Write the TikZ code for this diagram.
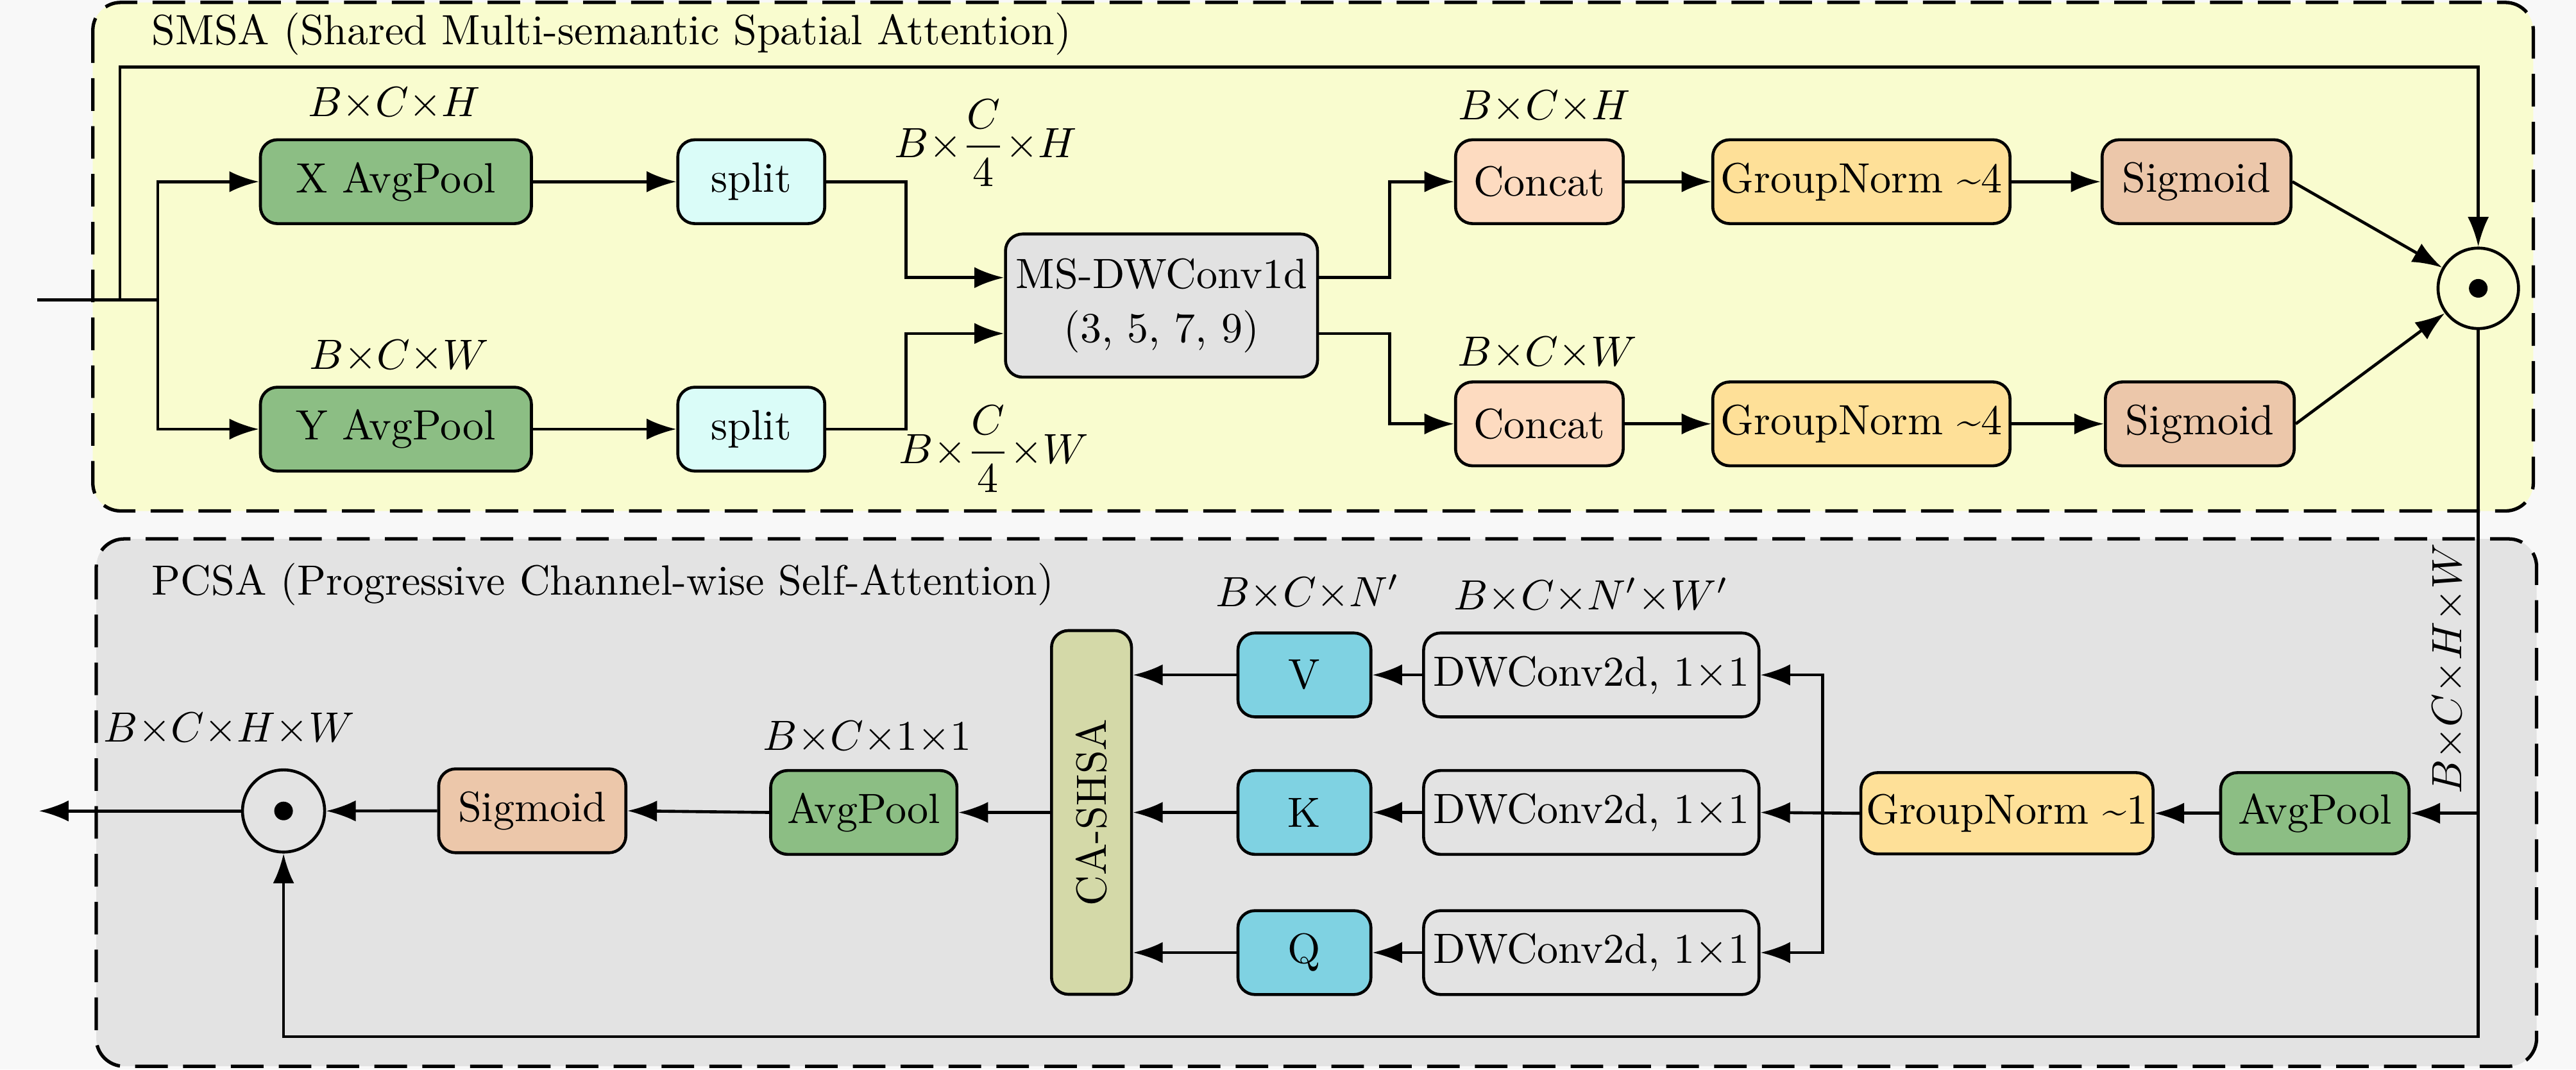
\documentclass[tikz,border=0pt]{standalone}
\usepackage{fontspec}
\usetikzlibrary{arrows.meta,calc}
\definecolor{bgc}{RGB}{248,248,248}
\definecolor{smsac}{RGB}{249,252,207}
\definecolor{pcsac}{RGB}{227,227,227}
\definecolor{greenc}{RGB}{140,190,132}
\definecolor{cyanc}{RGB}{218,252,248}
\definecolor{grayc}{RGB}{226,226,226}
\definecolor{peachc}{RGB}{253,219,192}
\definecolor{yellowc}{RGB}{254,224,152}
\definecolor{sigc}{RGB}{236,199,170}
\definecolor{bluec}{RGB}{127,210,226}
\definecolor{khakic}{RGB}{212,217,168}
\begin{document}
\begin{tikzpicture}[x=0.388pt,y=-0.388pt,
  box/.style={draw, line width=0.7pt, rounded corners=4pt, inner sep=1pt, minimum height=19.8pt, align=center},
  arr/.style={line width=0.7pt, -{Latex[length=7pt,width=5pt]}},
  ln/.style={line width=0.7pt},
  group/.style={draw, line width=0.8pt, dash pattern=on 7.7pt off 3.6pt, rounded corners=6.6pt},
  odot/.style={draw, circle, line width=0.7pt, minimum size=19pt, inner sep=0pt},
  lab/.style={anchor=base, inner sep=0pt}]
\fill[bgc] (0,0) rectangle (1568,651);
\useasboundingbox (0,0) rectangle (1568,651);
% groups
\draw[group, fill=smsac] (56.5,1.5) rectangle (1542,311);
\draw[group, fill=pcsac] (58.6,328) rectangle (1544,649);
\node[anchor=base west, inner sep=0pt] (t1) at (92,27) {SMSA (Shared Multi-semantic Spatial Attention)};
\node[anchor=base west, inner sep=0pt] (t2) at (92,362) {PCSA (Progressive Channel-wise Self-Attention)};
% SMSA nodes
\node[box, fill=greenc, minimum width=64pt] (xap) at (241,110.6) {X AvgPool};
\node[box, fill=greenc, minimum width=64pt] (yap) at (241,261.2) {Y AvgPool};
\node[box, fill=cyanc, minimum width=34.7pt] (sp1) at (457.3,110.6) {split};
\node[box, fill=cyanc, minimum width=34.7pt] (sp2) at (457.3,261.2) {split};
\node[box, fill=grayc, minimum width=73.7pt, minimum height=33.8pt] (ms) at (707,186) {MS-DWConv1d\\[0.8pt](3, 5, 7, 9)};
\node[box, fill=peachc, minimum width=39.6pt] (cat1) at (937,110.6) {Concat};
\node[box, fill=peachc, minimum width=39.6pt] (cat2) at (937,258) {Concat};
\node[box, fill=yellowc, minimum width=70.2pt] (gn1) at (1133,110.6) {GroupNorm \textasciitilde4};
\node[box, fill=yellowc, minimum width=70.2pt] (gn2) at (1133,258) {GroupNorm \textasciitilde4};
\node[box, fill=sigc, minimum width=44.6pt] (sg1) at (1337,110.6) {Sigmoid};
\node[box, fill=sigc, minimum width=44.6pt] (sg2) at (1339,258) {Sigmoid};
\node[odot] (od1) at (1508.5,175.5) {};
\fill (od1.center) circle (2.2pt);
% PCSA nodes
\node[box, fill=greenc, minimum width=44.5pt, minimum height=19.2pt] (apR) at (1409,495) {AvgPool};
\node[box, fill=yellowc, minimum width=69pt, minimum height=19.2pt] (gnR) at (1221.6,495) {GroupNorm \textasciitilde1};
\node[box, fill=pcsac, minimum width=79.2pt] (dwV) at (968.6,410.8) {DWConv2d, 1$\times$1};
\node[box, fill=pcsac, minimum width=79.2pt] (dwK) at (968.6,494.5) {DWConv2d, 1$\times$1};
\node[box, fill=pcsac, minimum width=79.2pt] (dwQ) at (968.6,579.8) {DWConv2d, 1$\times$1};
\node[box, fill=bluec, minimum width=31.4pt] (qv) at (794,410.8) {V};
\node[box, fill=bluec, minimum width=31.4pt] (qk) at (794,494.5) {K};
\node[box, fill=bluec, minimum width=31.4pt] (qq) at (794,579.8) {Q};
\node[box, fill=khakic, minimum width=18.9pt, minimum height=85.9pt] (ca) at (664.4,494.5) {};
\node[rotate=90, inner sep=0pt] (catext) at (ca.center) {CA-SHSA};
\node[box, fill=greenc, minimum width=44pt] (apL) at (525.8,494.5) {AvgPool};
\node[box, fill=sigc, minimum width=44.2pt] (sgL) at (324,493.5) {Sigmoid};
\node[odot, minimum size=19.4pt] (od2) at (172.6,493.6) {};
\fill (od2.center) circle (2.2pt);
% coordinates
\coordinate (in) at (22.7,182.6);
\coordinate (bj) at (96,182.6);
\coordinate (rj) at (73,182.6);
\coordinate (rt) at (1508.5,40.8);
\coordinate (out) at (23.7,493.6);
\coordinate (gj) at (1109.4,494.5);
% SMSA connectors
\draw[ln] (in) -- (bj);
\draw[arr] (bj) |- (xap.west);
\draw[arr] (bj) |- (yap.west);
\draw[arr] (rj) |- (rt) -- (od1.north);
\draw[arr] (xap.east) -- (sp1.west);
\draw[arr] (yap.east) -- (sp2.west);
\draw[arr] (sp1.east) -- ++(48.5,0) |- ([yshift=6.6pt]ms.west);
\draw[arr] (sp2.east) -- ++(48.5,0) |- ([yshift=-6.6pt]ms.west);
\draw[arr] ([yshift=6.6pt]ms.east) -- ++(43,0) |- (cat1.west);
\draw[arr] ([yshift=-6.6pt]ms.east) -- ++(43,0) |- (cat2.west);
\draw[arr] (cat1.east) -- (gn1.west);
\draw[arr] (gn1.east) -- (sg1.west);
\draw[arr] (cat2.east) -- (gn2.west);
\draw[arr] (gn2.east) -- (sg2.west);
\draw[arr] (sg1.east) -- (od1);
\draw[arr] (sg2.east) -- (od1);
% PCSA connectors
\draw[arr] (od1.south) -- ++(0,430) -| (od2.south);
\draw[arr] (od1.south |- apR.east) -- (apR.east);
\draw[arr] (apR.west) -- (gnR.east);
\draw[arr] (gnR.west) -- (dwK.east);
\draw[arr] (gj) |- (dwV.east);
\draw[arr] (gj) |- (dwQ.east);
\draw[arr] (dwV.west) -- (qv.east);
\draw[arr] (dwK.west) -- (qk.east);
\draw[arr] (dwQ.west) -- (qq.east);
\draw[arr] (qv.west) -- (qv.west -| ca.east);
\draw[arr] (qk.west) -- (qk.west -| ca.east);
\draw[arr] (qq.west) -- (qq.west -| ca.east);
\draw[arr] (ca.west) -- (apL.east);
\draw[arr] (apL.west) -- (sgL.east);
\draw[arr] (sgL.west) -- (od2.east);
\draw[arr] (od2.west) -- (out);
% labels
\node[lab] (l1) at (240,71) {$B{\times}C{\times}H$};
\node[lab] (l2) at (243,224.6) {$B{\times}C{\times}W$};
\node[lab] (l3) at (600,95.7) {$B{\times}\displaystyle\frac{C}{4}{\times}H$};
\node[lab] (l4) at (605,282) {$B{\times}\displaystyle\frac{C}{4}{\times}W$};
\node[lab] (l5) at (940,72.9) {$B{\times}C{\times}H$};
\node[lab] (l6) at (942,222.6) {$B{\times}C{\times}W$};
\node[lab] (l7) at (796,369) {$B{\times}C{\times}N'$};
\node[lab] (l8) at (968.5,371) {$B{\times}C{\times}N'{\times}W'$};
\node[lab] (l9) at (528,456.8) {$B{\times}C{\times}1{\times}1$};
\node[lab] (l10) at (139.5,451.6) {$B{\times}C{\times}H{\times}W$};
\node[rotate=90, inner sep=0pt] (l11) at (1490.5,407) {$B{\times}C{\times}H{\times}W$};
\end{tikzpicture}
\end{document}
